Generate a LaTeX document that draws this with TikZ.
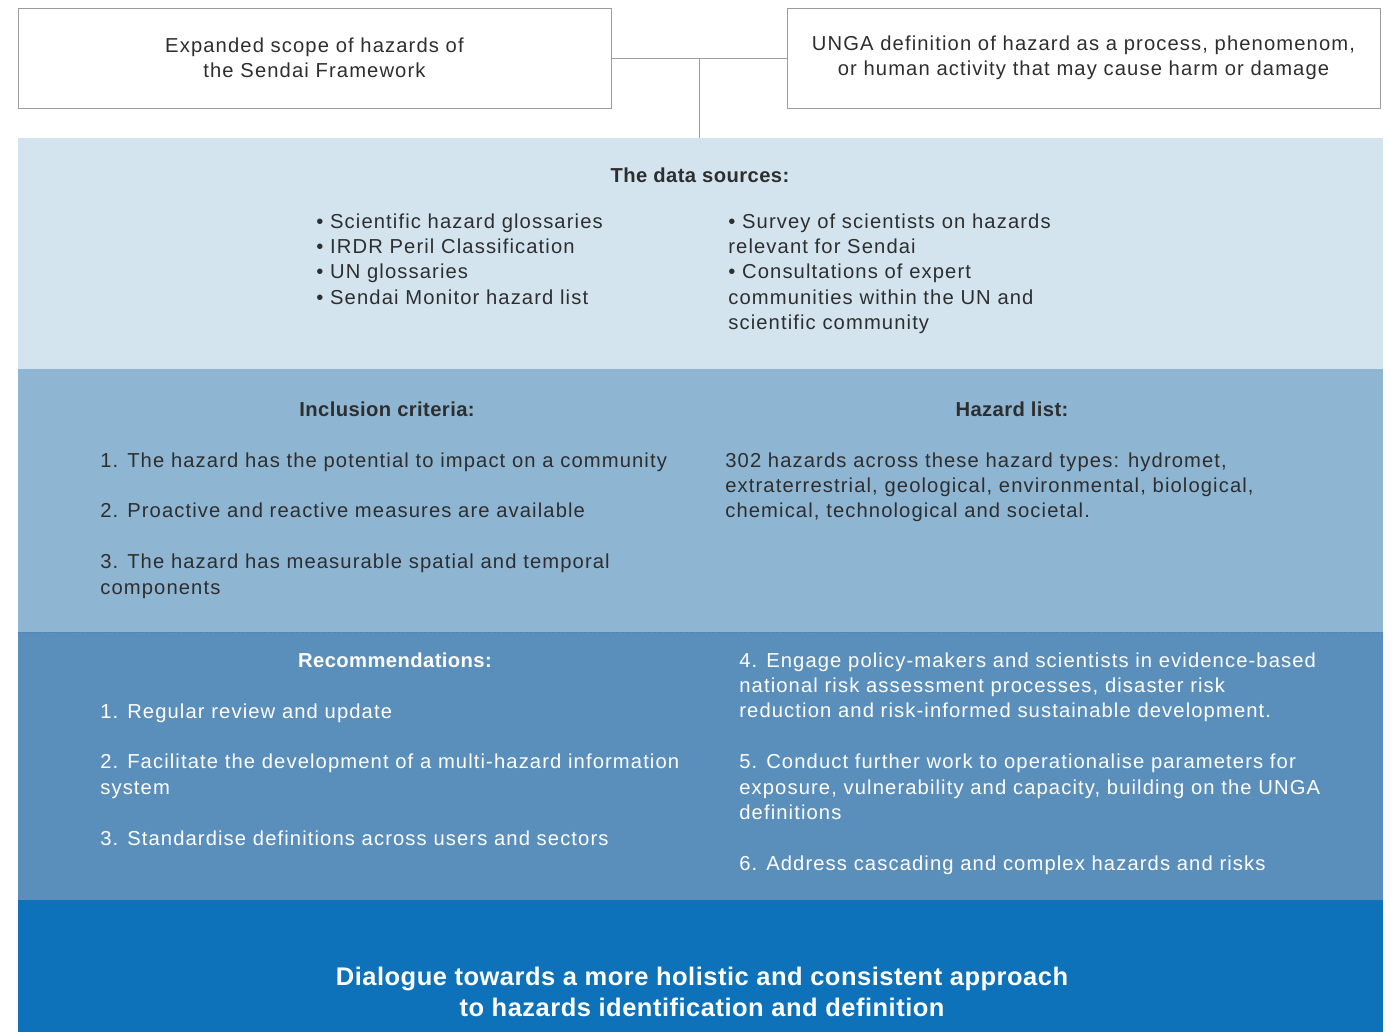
\documentclass[tikz,border=0pt]{standalone}
\usepackage{fontspec}
\setmainfont{Liberation Sans}[LetterSpace=5.5,BoldFeatures={LetterSpace=2}]
\usetikzlibrary{positioning}
\definecolor{bandA}{HTML}{D3E4EF}
\definecolor{bandB}{HTML}{8EB5D1}
\definecolor{bandC}{HTML}{5B8FBB}
\definecolor{bandD}{HTML}{0D72BA}
\definecolor{txtc}{HTML}{2E2E2E}
\definecolor{linec}{HTML}{9C9C9C}
\definecolor{dotc}{HTML}{4F7FAA}
\newcommand\bodyf{\fontsize{11.5}{14.5}\selectfont}

\begin{document}
\begin{tikzpicture}[x=0.02cm,y=-0.02cm,
      box/.style={draw=linec,minimum width=11.86cm,minimum height=2cm,align=center,text=txtc,font=\bodyf},
      head/.style={font=\bfseries\bodyf,text=txtc},
      list/.style={anchor=north west,inner sep=0pt,align=left,font=\bodyf,text=txtc}]
    \useasboundingbox (0,0) rectangle (1393,1032);
    % the four bands
    \fill[bandA] (18,138) rectangle (1383,369);
    \fill[bandB] (18,369) rectangle (1383,632);
    \fill[bandC] (18,632) rectangle (1383,900);
    \fill[bandD] (18,900) rectangle (1383,1032);
    \draw[densely dotted,dotc] (18,632) -- (1383,632);
    % top boxes
    \node[box] (scope) at (314.5,58) {Expanded scope of hazards of\\the Sendai Framework};
    \node[box] (unga) at (1083.5,58) {UNGA definition of hazard as a process, phenomenom,\\or human activity that may cause harm or damage};
    \coordinate (join) at (699,58);
    \coordinate (srctop) at (699,138);
    \draw[linec] (scope) -- (unga);
    \draw[linec] (join) -- (srctop);
    % data sources
    \node[head] (srchead) at (700,175) {The data sources:};
    \node[list] (srcL) at (316,213) {• Scientific hazard glossaries\\• IRDR Peril Classification\\• UN glossaries\\• Sendai Monitor hazard list};
    \node[list] (srcR) at (728,213) {• Survey of scientists on hazards\\relevant for Sendai\\• Consultations of expert\\communities within the UN and\\scientific community};
    % criteria and list
    \node[head] (inchead) at (387,409) {Inclusion criteria:};
    \node[list] (incL) at (100,452) {1. The hazard has the potential to impact on a community\\[14.5pt]2. Proactive and reactive measures are available\\[14.5pt]3. The hazard has measurable spatial and temporal\\components};
    \node[head] (hazhead) at (1012,409) {Hazard list:};
    \node[list] (hazL) at (725,452) {302 hazards across these hazard types: hydromet,\\extraterrestrial, geological, environmental, biological,\\chemical, technological and societal.};
    % recommendations
    \node[head,text=white] (rechead) at (395,660) {Recommendations:};
    \node[list,text=white] (recL) at (100,703) {1. Regular review and update\\[14.5pt]2. Facilitate the development of a multi-hazard information\\system\\[14.5pt]3. Standardise definitions across users and sectors};
    \node[list,text=white] (recR) at (739,652) {4. Engage policy-makers and scientists in evidence-based\\national risk assessment processes, disaster risk\\reduction and risk-informed sustainable development.\\[14.5pt]5. Conduct further work to operationalise parameters for\\exposure, vulnerability and capacity, building on the UNGA\\definitions\\[14.5pt]6. Address cascading and complex hazards and risks};
    % dialogue
    \node[align=center,text=white,font=\bfseries\fontsize{14.5}{17.6}\selectfont] (dialogue) at (702,992) {Dialogue towards a more holistic and consistent approach\\to hazards identification and definition};
\end{tikzpicture}
\end{document}
